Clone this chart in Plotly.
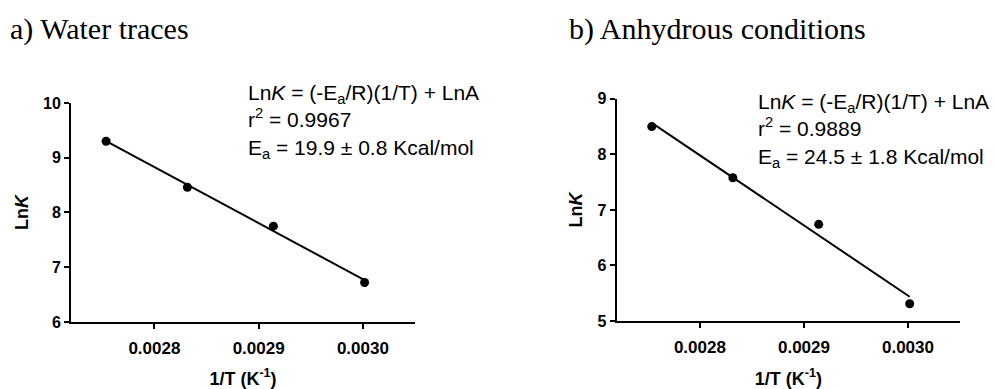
import numpy as np
import plotly.graph_objects as go

# Arrhenius data: 1/T (K^-1) and ln k for both reaction conditions
inv_T = [1 / 363.15, 1 / 353.15, 1 / 343.15, 1 / 333.15]
lnk_water = [9.30, 8.46, 7.75, 6.72]
lnk_anhydrous = [8.50, 7.58, 6.74, 5.31]

panel_titles = ["a) Water traces", "b) Anhydrous conditions"]
fit_texts = [
    "Ln<i>K</i> = (-E<sub>a</sub>/R)(1/T) + LnA<br>r<sup>2</sup> = 0.9967<br>E<sub>a</sub> = 19.9 \u00b1 0.8 Kcal/mol",
    "Ln<i>K</i> = (-E<sub>a</sub>/R)(1/T) + LnA<br>r<sup>2</sup> = 0.9889<br>E<sub>a</sub> = 24.5 \u00b1 1.8 Kcal/mol",
]

x_tickvals = [0.0028, 0.0029, 0.0030]
x_ticktext = ["0.0028", "0.0029", "0.0030"]
y_ticks_water = [6, 7, 8, 9, 10]
y_ticks_anhydrous = [5, 6, 7, 8, 9]

W, H = 996, 389

fig = go.Figure()

series = [lnk_water, lnk_anhydrous]
for i, y in enumerate(series):
    xa = "x" if i == 0 else "x2"
    ya = "y" if i == 0 else "y2"
    # least-squares line through the points
    slope, intercept = np.polyfit(inv_T, y, 1)
    xf = [min(inv_T), max(inv_T)]
    yf = [slope * v + intercept for v in xf]
    fig.add_trace(go.Scatter(x=xf, y=yf, mode="lines",
                             line=dict(color="black", width=2),
                             xaxis=xa, yaxis=ya, showlegend=False,
                             hoverinfo="skip"))
    fig.add_trace(go.Scatter(x=inv_T, y=y, mode="markers",
                             marker=dict(color="black", size=9),
                             xaxis=xa, yaxis=ya, showlegend=False))

axis_font = dict(family="Arial, Liberation Sans, sans-serif", color="black")


def xaxis_cfg(domain, anchor):
    return dict(domain=domain, range=[0.00272, 0.00305], anchor=anchor,
                tickvals=x_tickvals, ticktext=x_ticktext,
                showline=True, linecolor="black", linewidth=2,
                ticks="outside", ticklen=5, tickwidth=2, tickcolor="black",
                ticklabelstandoff=5,
                showgrid=False, zeroline=False,
                tickfont=dict(size=17, weight="bold", **axis_font),
                title=dict(text="<b>1/T (K<sup>-1</sup>)</b>",
                           font=dict(size=18, **axis_font), standoff=17))


def yaxis_cfg(domain, rng, ticks, anchor):
    return dict(domain=domain, range=rng, tickvals=ticks, anchor=anchor,
                showline=True, linecolor="black", linewidth=2,
                ticks="outside", ticklen=5, tickwidth=2, tickcolor="black",
                showgrid=False, zeroline=False,
                tickfont=dict(size=16, weight="bold", **axis_font),
                title=dict(text="<b>Ln<i>K</i></b>",
                           font=dict(size=18, **axis_font), standoff=10))


fig.update_layout(
    width=W, height=H,
    margin=dict(l=0, r=0, t=0, b=0),
    paper_bgcolor="white", plot_bgcolor="white",
    xaxis=xaxis_cfg([71 / W, 415 / W], "y"),
    yaxis=yaxis_cfg([1 - 328.3 / H, 1 - 99.3 / H], [6, 10], y_ticks_water, "x"),
    xaxis2=xaxis_cfg([616.7 / W, 960 / W], "y2"),
    yaxis2=yaxis_cfg([1 - 327.3 / H, 1 - 95 / H], [5, 9], y_ticks_anhydrous, "x2"),
)

# panel headings
for x0, t in zip([8, 567], panel_titles):
    fig.add_annotation(text=t, x=x0 / W, y=1 - 2 / H, xref="paper", yref="paper",
                       xanchor="left", yanchor="top", showarrow=False,
                       font=dict(family="Liberation Serif, Times New Roman, serif",
                                 size=30, color="black"))

# regression summaries
for x0, y0, t in zip([246, 756], [74, 84], fit_texts):
    fig.add_annotation(text=t, x=x0 / W, y=1 - y0 / H, xref="paper", yref="paper",
                       xanchor="left", yanchor="top", align="left", showarrow=False,
                       font=dict(size=21, **axis_font))

fig.write_html("out.html")
